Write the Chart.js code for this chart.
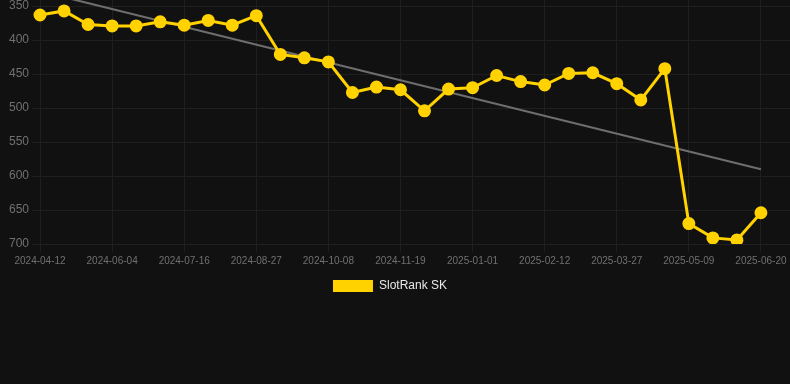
<!DOCTYPE html>
<html>
<head>
<meta charset="utf-8">
<script src="https://cdn.jsdelivr.net/npm/chart.js@4/dist/chart.umd.min.js"></script>
<style>
  html, body { margin: 0; padding: 0; background: #111111; overflow: hidden; }
  body { width: 790px; height: 384px; position: relative; }
  #wrap { position: absolute; left: 0; top: -38px; width: 817px; height: 340px; }
</style>
</head>
<body>
<div id="wrap"><canvas id="chart"></canvas></div>
<script>
// dates of the rank snapshots (last two only extend the axis past the view)
const dateLabels = [
  '2024-04-12', '2024-04-30', '2024-05-17', '2024-06-04', '2024-06-18', '2024-07-02',
  '2024-07-16', '2024-07-30', '2024-08-13', '2024-08-27', '2024-09-10', '2024-09-24',
  '2024-10-08', '2024-10-22', '2024-11-05', '2024-11-19', '2024-12-03', '2024-12-17',
  '2025-01-01', '2025-01-15', '2025-01-29', '2025-02-12', '2025-02-26', '2025-03-13',
  '2025-03-27', '2025-04-10', '2025-04-24', '2025-05-09', '2025-05-23', '2025-06-06',
  '2025-06-20', '2025-07-04', '2025-07-18',
];

const rankValues = [
  363, 357, 377, 379, 379, 373, 378, 371, 378, 364, 421,
  426, 432, 477, 469, 473, 504, 472, 470, 452, 461, 466,
  449, 448, 464, 488, 442, 670, 691, 694, 654,
];

// trend line: start and end value only
const trendStart = 328;
const trendEnd = 590;
const trendEndIndex = 30;

const yTicks = [300, 350, 400, 450, 500, 550, 600, 650, 700];

const trendValues = dateLabels.map((d, i) => {
  if (i === 0) return trendStart;
  if (i === trendEndIndex) return trendEnd;
  return null;
});

const YELLOW = '#ffd200';
const GRID = '#1f1f1f';
const TICK = '#707070';

Chart.defaults.font.family = '"Liberation Sans", Arial, sans-serif';

// keep the legend centred on the visible part of the page
const legendCenter = {
  id: 'legendCenter',
  afterLayout(chart) {
    if (chart.legend) chart.legend.right = 780 - chart.legend.left;
  },
};

const defaultLabels = Chart.defaults.plugins.legend.labels.generateLabels;

new Chart(document.getElementById('chart').getContext('2d'), {
  type: 'line',
  data: {
    labels: dateLabels,
    datasets: [
      {
        label: 'SlotRank SK',
        data: rankValues,
        borderColor: YELLOW,
        backgroundColor: YELLOW,
        borderWidth: 3,
        pointRadius: 5,
        pointBackgroundColor: YELLOW,
        pointBorderColor: YELLOW,
        tension: 0,
      },
      {
        label: 'trend',
        data: trendValues,
        spanGaps: true,
        borderColor: '#6e6e6e',
        borderWidth: 2,
        pointRadius: 0,
        tension: 0,
      },
    ],
  },
  options: {
    responsive: true,
    maintainAspectRatio: false,
    animation: false,
    layout: { padding: { left: 6 } },
    scales: {
      x: {
        grid: { color: GRID, tickColor: GRID, tickLength: 8 },
        border: { color: GRID },
        ticks: {
          color: TICK,
          font: { size: 10 },
          maxRotation: 0,
          autoSkip: true,
          maxTicksLimit: 11,
        },
      },
      y: {
        reverse: true,
        min: yTicks[0],
        max: yTicks[yTicks.length - 1],
        grid: { color: GRID, tickColor: GRID, tickLength: 8 },
        border: { color: GRID },
        ticks: {
          color: TICK,
          font: { size: 12 },
          stepSize: 50,
        },
      },
    },
    plugins: {
      legend: {
        position: 'bottom',
        labels: {
          color: '#e8e8e8',
          font: { size: 12 },
          filter: (item) => item.datasetIndex === 0,
          generateLabels: (chart) =>
            defaultLabels(chart).map((item) => ({ ...item, lineWidth: 0 })),
        },
      },
      tooltip: { enabled: false },
    },
  },
  plugins: [legendCenter],
});
</script>
</body>
</html>
